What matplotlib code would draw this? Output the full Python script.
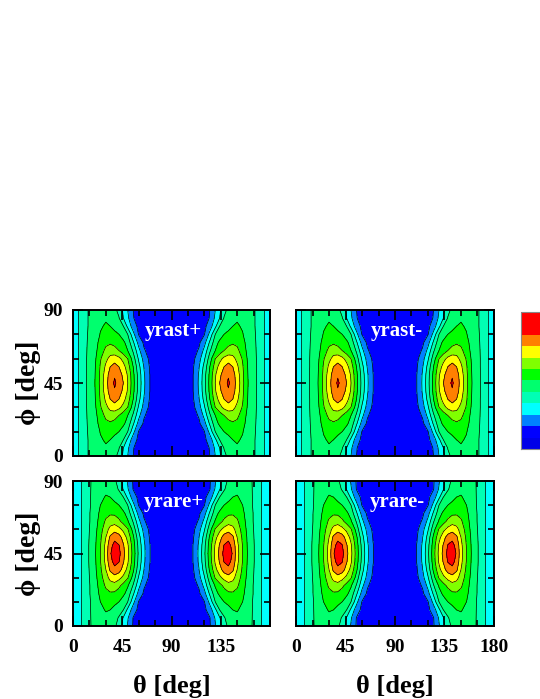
import matplotlib
matplotlib.use('Agg')
import matplotlib.pyplot as plt
import numpy as np
from matplotlib.colors import ListedColormap
from matplotlib.ticker import MultipleLocator

plt.rcParams['font.family'] = ['Liberation Serif', 'DejaVu Serif']
plt.rcParams['font.weight'] = 'bold'

# grid: one quadrant (theta 0-90, phi 0-45), the maps are symmetric
theta_q = [0, 5, 10, 15, 20, 25, 30, 34, 38, 42, 46, 50, 55, 60, 65, 70, 75, 80, 85, 90]
phi_q = [0, 5, 10, 15, 20, 25, 30, 35, 40, 45]

yrast_q = [
    [3.4, 3.98, 4.71, 5.1, 5.35, 5.65, 5.7, 5.5, 5.2, 4.75, 3.8, 3.0, 2.0, 1.65, 1.5, 1.4, 1.35, 1.3, 1.3, 1.3],
    [3.4, 3.98, 4.71, 5.1, 5.4, 5.8, 5.9, 5.6, 5.35, 5.05, 4.0, 3.2, 2.05, 1.65, 1.5, 1.4, 1.35, 1.3, 1.3, 1.3],
    [3.4, 3.98, 4.71, 5.1, 5.45, 5.9, 6.1, 6.0, 5.75, 5.4, 5.0, 3.75, 2.5, 1.75, 1.5, 1.4, 1.35, 1.3, 1.3, 1.3],
    [3.4, 3.98, 4.71, 5.15, 5.5, 6.05, 6.35, 6.35, 6.2, 6.0, 5.5, 5.0, 3.3, 1.95, 1.6, 1.45, 1.35, 1.3, 1.3, 1.3],
    [3.4, 3.98, 4.71, 5.2, 5.6, 6.3, 6.75, 6.85, 6.75, 6.5, 6.2, 5.6, 4.15, 2.65, 1.8, 1.55, 1.4, 1.3, 1.3, 1.3],
    [3.4, 3.98, 4.71, 5.25, 5.7, 6.5, 7.25, 7.55, 7.3, 7.0, 6.5, 6.0, 4.85, 3.3, 2.1, 1.65, 1.4, 1.35, 1.3, 1.3],
    [3.4, 3.98, 4.71, 5.3, 5.8, 6.9, 7.75, 8.3, 8.6, 8.25, 7.67, 7.0, 5.5, 3.86, 2.6, 1.8, 1.45, 1.35, 1.3, 1.3],
    [3.4, 3.98, 4.71, 5.3, 5.9, 7.1, 8.2, 9.0, 9.35, 9.0, 8.36, 7.5, 6.0, 4.33, 2.9, 1.95, 1.5, 1.35, 1.3, 1.3],
    [3.4, 3.98, 4.71, 5.35, 5.95, 7.2, 8.55, 9.4, 9.9, 9.45, 8.78, 7.9, 6.25, 4.6, 3.1, 2.02, 1.5, 1.35, 1.3, 1.3],
    [3.4, 3.98, 4.71, 5.38, 6.0, 7.25, 8.67, 9.5, 10.15, 9.62, 9.0, 8.0, 6.33, 4.67, 3.14, 2.02, 1.5, 1.35, 1.3, 1.3],
]

yrare_q = [
    [3.3, 3.7, 4.27, 4.9, 5.25, 5.6, 5.65, 5.45, 5.15, 4.65, 3.7, 2.9, 1.9, 1.6, 1.5, 1.4, 1.35, 1.3, 1.3, 1.3],
    [3.3, 3.7, 4.27, 4.9, 5.3, 5.75, 5.85, 5.6, 5.35, 4.9, 3.9, 3.1, 1.95, 1.6, 1.5, 1.4, 1.35, 1.3, 1.3, 1.3],
    [3.3, 3.7, 4.27, 4.9, 5.35, 5.85, 6.05, 6.0, 5.75, 5.4, 5.0, 3.75, 2.5, 1.75, 1.5, 1.4, 1.35, 1.3, 1.3, 1.3],
    [3.3, 3.7, 4.27, 4.9, 5.4, 6.0, 6.3, 6.35, 6.2, 6.0, 5.5, 5.0, 3.3, 1.95, 1.6, 1.45, 1.35, 1.3, 1.3, 1.3],
    [3.3, 3.7, 4.27, 4.95, 5.5, 6.2, 6.7, 6.85, 6.8, 6.55, 6.2, 5.6, 4.15, 2.65, 1.8, 1.55, 1.4, 1.3, 1.3, 1.3],
    [3.3, 3.7, 4.27, 4.95, 5.55, 6.4, 7.15, 7.55, 7.6, 7.2, 6.65, 6.1, 4.9, 3.3, 2.1, 1.65, 1.4, 1.35, 1.3, 1.3],
    [3.3, 3.7, 4.27, 5.0, 5.65, 6.6, 7.6, 8.3, 8.6, 8.3, 7.75, 7.1, 5.6, 3.9, 2.65, 1.8, 1.45, 1.35, 1.3, 1.3],
    [3.3, 3.7, 4.27, 5.05, 5.75, 6.8, 8.0, 9.2, 9.75, 9.45, 8.6, 7.7, 6.2, 4.4, 2.95, 1.95, 1.5, 1.35, 1.3, 1.3],
    [3.3, 3.7, 4.27, 5.1, 5.8, 6.95, 8.3, 9.7, 10.3, 10.05, 9.1, 8.15, 6.5, 4.7, 3.15, 2.05, 1.5, 1.35, 1.3, 1.3],
    [3.3, 3.7, 4.27, 5.1, 5.85, 7.0, 8.4, 9.9, 10.55, 10.3, 9.3, 8.25, 6.6, 4.8, 3.2, 2.05, 1.5, 1.35, 1.3, 1.3],
]

panel_names = ['yrast+', 'yrast-', 'yrare+', 'yrare-']
levels = list(range(13))
band_colors = ['#0000e8', '#0000ff', '#0080ff', '#00ffff', '#00ffb4', '#00ff6e',
               '#00ff00', '#80ff00', '#ffff00', '#ff8000', '#ff0000', '#ff0000']


def full_map(q):
    # mirror the quadrant to the whole 0-180 x 0-90 range
    q = np.array(q)
    q = np.vstack([q, q[-2::-1]])
    return np.hstack([q, q[:, -2::-1]])


th = np.array(theta_q)
ph = np.array(phi_q)
theta = np.concatenate([th, 180 - th[-2::-1]])
phi = np.concatenate([ph, 90 - ph[-2::-1]])
maps = [full_map(yrast_q), full_map(yrast_q), full_map(yrare_q), full_map(yrare_q)]

cmap = ListedColormap(band_colors)

fig = plt.figure(figsize=(5.4, 6.99), dpi=100)

W, H = 540.0, 699.0
boxes = [(73, 310, 197, 146), (296, 310, 198, 146),
         (73, 481, 197, 145), (296, 481, 198, 145)]

for i, (x0, y0, w, h) in enumerate(boxes):
    ax = fig.add_axes([x0 / W, 1 - (y0 + h) / H, w / W, h / H])
    cf = ax.contourf(theta, phi, maps[i], levels=levels, cmap=cmap)
    ax.contour(theta, phi, maps[i], levels=levels[2:12], colors='k', linewidths=0.5)
    ax.set_xlim(0, 180)
    ax.set_ylim(0, 90)
    ax.xaxis.set_major_locator(MultipleLocator(45))
    ax.xaxis.set_minor_locator(MultipleLocator(15))
    ax.yaxis.set_major_locator(MultipleLocator(45))
    ax.yaxis.set_minor_locator(MultipleLocator(15))
    ax.tick_params(which='both', direction='in', top=True, right=True, width=1.2,
                   labelsize=14)
    ax.tick_params(axis='y', pad=7)
    ax.tick_params(axis='x', pad=9)
    ax.tick_params(which='major', length=7)
    ax.tick_params(which='minor', length=4)
    for s in ax.spines.values():
        s.set_linewidth(1.4)
    ax.text(92, 77, panel_names[i], color='white', fontsize=15, fontweight='bold',
            ha='center', va='center')
    if i % 2 == 0:
        ax.set_ylabel('\u03d5 [deg]', fontsize=20, fontweight='bold', labelpad=2)
    else:
        ax.set_yticklabels([])
    if i >= 2:
        ax.set_xlabel('\u03b8 [deg]', fontsize=19, fontweight='bold', labelpad=14)
        if i == 2:
            ax.set_xticks([0, 45, 90, 135, 180])
            ax.set_xticklabels(['0', '45', '90', '135', ''])
    else:
        ax.set_xticklabels([])

cax = fig.add_axes([521 / W, 1 - 449 / H, 0.06, 137 / H])
cb = fig.colorbar(cf, cax=cax)
cb.set_ticks([])
cb.outline.set_edgecolor('#888888')

fig.savefig('out.png', dpi=100)
